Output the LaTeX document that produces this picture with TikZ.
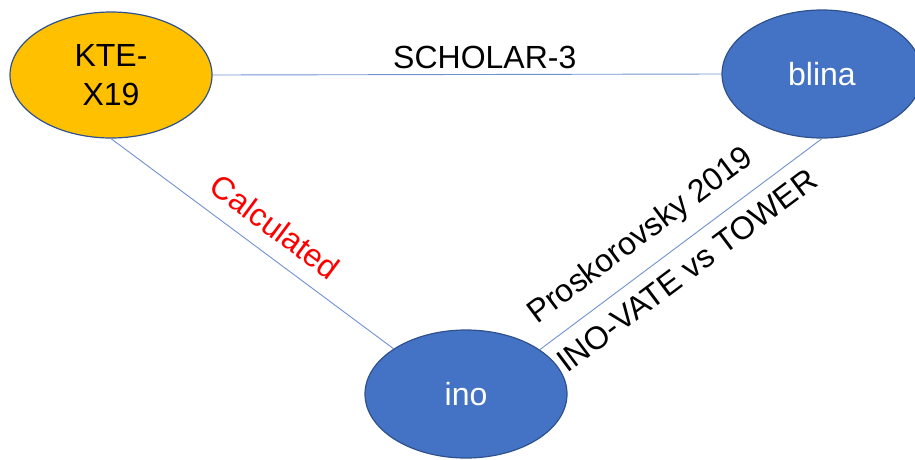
\documentclass[tikz,border=0pt]{standalone}
\usepackage{fontspec}
\setmainfont{Liberation Sans}
\usetikzlibrary{shapes.geometric}
\definecolor{gold}{HTML}{FFC000}
\definecolor{acc}{HTML}{4472C4}
\definecolor{outl}{HTML}{2F528F}
\definecolor{conn}{HTML}{6F92D2}
\begin{document}
\begin{tikzpicture}[x=1pt,y=-1pt,
  bubble/.style={ellipse, draw=outl, line width=1.2pt, inner sep=0pt, font=\fontsize{32}{39}\selectfont, align=center},
  goldnode/.style={bubble, fill=gold, text=black},
  bluenode/.style={bubble, fill=acc, text=white},
  link/.style={draw=conn, line width=0.9pt},
  lab/.style={font=\fontsize{32}{39}\selectfont, inner sep=0pt, sloped}]
\useasboundingbox (0,0) rectangle (915,459);
\node[goldnode, minimum width=202pt, minimum height=126pt] (kte) at (111,75) {KTE-\\X19};
\node[bluenode, minimum width=200pt, minimum height=128pt] (blina) at (822,74) {blina};
\node[bluenode, minimum width=202pt, minimum height=128pt] (ino) at (466,394) {ino};
\draw[link] (kte.east) -- node[lab, pos=0.535, above=5pt] (l1) {SCHOLAR-3} (blina.west);
\draw[link] (kte.south) -- node[lab, pos=0.524, above=15pt, text=red] (l2) {Calculated} (ino.148);
\draw[link] (ino.31) -- node[lab, pos=0.423, above=14.7pt] (l3) {Proskorovsky 2019}
  node[lab, pos=0.469, below=12.8pt] (l4) {INO-VATE vs TOWER} (blina.south);
\end{tikzpicture}
\end{document}
